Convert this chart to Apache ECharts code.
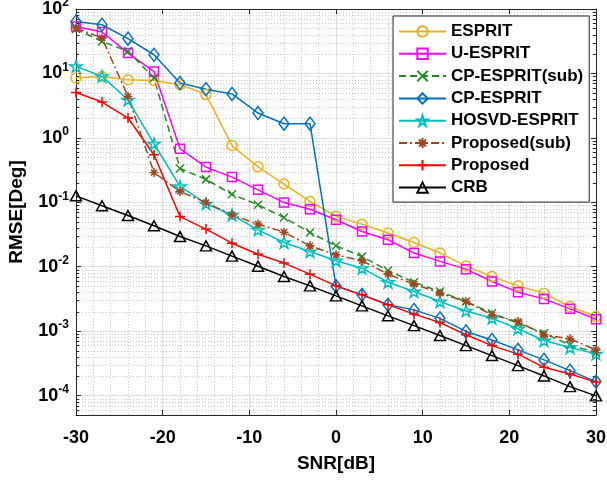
<!DOCTYPE html>
<html><head><meta charset="utf-8">
<script src="https://cdn.jsdelivr.net/npm/echarts@6/dist/echarts.min.js"></script>
<style>html,body{margin:0;padding:0;background:#fff}#c{width:607px;height:480px}</style>
</head><body><div id="c"></div>
<script>
// ---- data ----
const snr = [-30,-27,-24,-21,-18,-15,-12,-9,-6,-3,0,3,6,9,12,15,18,21,24,27,30];
const espritVals   = [8.5, 8.98, 7.98, 7.8, 6.7, 4.7, 0.76, 0.355, 0.192, 0.103, 0.061, 0.0458, 0.0333, 0.0238, 0.0163, 0.0103, 0.00705, 0.00505, 0.00389, 0.00241, 0.00169];
const uEspritVals  = [53.7, 44, 20.7, 10.7, 0.678, 0.352, 0.246, 0.156, 0.099, 0.078, 0.0535, 0.0352, 0.0262, 0.0163, 0.0121, 0.00918, 0.00589, 0.00403, 0.00317, 0.00222, 0.00153];
const cpSubVals    = [48.9, 31.4, 22, 8.5, 0.335, 0.227, 0.133, 0.0914, 0.058, 0.034, 0.0211, 0.0144, 0.00873, 0.00575, 0.00412, 0.00288, 0.0019, 0.00133, 0.00093, 0.00061, 0.000465];
const cpVals       = [64, 57, 34.6, 19.5, 7.1, 5.7, 4.8, 2.43, 1.66, 1.66, 0.0050, 0.00366, 0.00257, 0.00214, 0.00158, 0.00099, 0.00073, 0.000513, 0.000358, 0.000244, 0.000165];
const hosvdVals    = [12.9, 9.0, 3.9, 0.81, 0.176, 0.095, 0.064, 0.0374, 0.0238, 0.0172, 0.0124, 0.0095, 0.00575, 0.00412, 0.00288, 0.00206, 0.00159, 0.00109, 0.000715, 0.000556, 0.000444];
const propSubVals  = [50.7, 35.5, 4.4, 0.29, 0.147, 0.099, 0.064, 0.0459, 0.0344, 0.0211, 0.0153, 0.0124, 0.00767, 0.00537, 0.00389, 0.00288, 0.00179, 0.00141, 0.000877, 0.00076, 0.000513];
const propVals     = [5.07, 3.6, 2.03, 0.547, 0.060, 0.0384, 0.0232, 0.0156, 0.0114, 0.00767, 0.00505, 0.00366, 0.00257, 0.00184, 0.00136, 0.00088, 0.000597, 0.00044, 0.000275, 0.000217, 0.000162];
const crbVals      = [0.126, 0.0883, 0.0624, 0.0432, 0.0294, 0.0211, 0.0146, 0.0102, 0.00705, 0.00505, 0.00353, 0.00247, 0.00173, 0.00122, 0.000855, 0.000597, 0.000418, 0.000292, 0.000202, 0.000138, 0.000099];
const seriesNames = ['ESPRIT','U-ESPRIT','CP-ESPRIT(sub)','CP-ESPRIT','HOSVD-ESPRIT','Proposed(sub)','Proposed','CRB'];
const xLabel = 'SNR[dB]';
const yLabel = 'RMSE[Deg]';

// ---- style ----
const FONT = '"Liberation Sans", Arial, Helvetica, sans-serif';
const FRAME = '#262626';
const X_MIN = -30, X_MAX = 30, Y_MIN = 5e-5, Y_MAX = 100;

const SYM = {
  x: 'path://M0,0L10,10M10,0L0,10',
  plus: 'path://M5,0L5,10M0,5L10,5',
  aster: 'path://M5,0L5,10M0,5L10,5M1.6,1.6L8.4,8.4M8.4,1.6L1.6,8.4',
  star: 'path://M50,0L61.8,36.2L100,36.2L69.1,58.8L80.9,95.1L50,72.7L19.1,95.1L30.9,58.8L0,36.2L38.2,36.2Z'
};

function mk(name, vals, color, symbol, size, lineType) {
  return {
    name: name, type: 'line', data: snr.map((x, i) => [x, vals[i]]),
    symbol: symbol, symbolSize: size, symbolKeepAspect: true, showAllSymbol: true,
    lineStyle: { color: color, width: 1.5, type: lineType || 'solid' },
    itemStyle: { color: 'rgba(0,0,0,0)', borderColor: color, borderWidth: 1.5 },
    emphasis: { disabled: true }, animation: false, z: 3
  };
}

const minorVals = [];
for (let n = -5; n <= 1; n++) for (let k = 2; k <= 9; k++) {
  const v = k * Math.pow(10, n);
  if (v > Y_MIN * 1.0001 && v < Y_MAX) minorVals.push(v);
}

const chart = echarts.init(document.getElementById('c'), null, { renderer: 'canvas' });
const option = {
  animation: false,
  backgroundColor: '#fff',
  grid: { left: 76, right: 11, top: 9, bottom: 65, containLabel: false, outerBoundsMode: 'none' },
  legend: {
    data: seriesNames, orient: 'vertical', left: 393, top: 16,
    itemWidth: 47, itemHeight: 13, itemGap: 5.3,
    padding: [7, 6, 6, 5], backgroundColor: '#fff', borderColor: FRAME, borderWidth: 1, borderRadius: 0,
    textStyle: { fontFamily: FONT, fontWeight: 'bold', fontSize: 17, color: '#000', lineHeight: 17 },
    selectedMode: false
  },
  xAxis: [{
    type: 'value', min: X_MIN, max: X_MAX, interval: 10,
    name: xLabel, nameLocation: 'middle', nameGap: 39,
    nameTextStyle: { fontFamily: FONT, fontWeight: 'bold', fontSize: 19, color: '#000' },
    axisLine: { show: true, onZero: false, lineStyle: { color: FRAME, width: 1 } },
    axisTick: { show: true, inside: true, length: 5, lineStyle: { color: FRAME } },
    axisLabel: { fontFamily: FONT, fontWeight: 'bold', fontSize: 18, color: '#000', margin: 14 },
    splitLine: { show: true, lineStyle: { color: '#e0e0e0', width: 1 } },
    minorTick: { show: false, splitNumber: 5 },
    minorSplitLine: { show: true, lineStyle: { color: '#cfcfcf', width: 1, type: [1, 2] } }
  }, {
    type: 'value', min: X_MIN, max: X_MAX, interval: 10, position: 'top',
    axisLine: { show: true, onZero: false, lineStyle: { color: FRAME, width: 1 } },
    axisTick: { show: true, inside: true, length: 5, lineStyle: { color: FRAME } },
    axisLabel: { show: false }, splitLine: { show: false }
  }],
  yAxis: [{
    type: 'log', logBase: 10, min: Y_MIN, max: Y_MAX,
    name: yLabel, nameLocation: 'middle', nameGap: 50, nameRotate: 90,
    nameTextStyle: { fontFamily: FONT, fontWeight: 'bold', fontSize: 19, color: '#000' },
    axisLine: { show: true, onZero: false, lineStyle: { color: FRAME, width: 1 } },
    axisTick: { show: true, inside: true, length: 5, lineStyle: { color: FRAME } },
    axisLabel: {
      margin: 7,
      formatter: function (v) {
        const e = Math.log10(v), r = Math.round(e);
        if (Math.abs(e - r) > 1e-6) return '';
        return '{b|10}{s|' + r + '}';
      },
      rich: {
        b: { fontFamily: FONT, fontWeight: 'bold', fontSize: 18, color: '#000', lineHeight: 24 },
        s: { fontFamily: FONT, fontWeight: 'bold', fontSize: 12, color: '#000', lineHeight: 12, verticalAlign: 'top' }
      }
    },
    splitLine: { show: true, lineStyle: { color: '#e0e0e0', width: 1 } }
  }, {
    type: 'log', logBase: 10, min: Y_MIN, max: Y_MAX, position: 'right',
    axisLine: { show: true, onZero: false, lineStyle: { color: FRAME, width: 1 } },
    axisTick: { show: true, inside: true, length: 5, lineStyle: { color: FRAME } },
    axisLabel: { show: false }, splitLine: { show: false }
  }],
  series: [
    {
      type: 'custom', name: 'minorgrid', silent: true, z: 1, animation: false,
      data: minorVals.map(v => [X_MIN, v]), encode: { x: 0, y: 1 },
      renderItem: function (params, api) {
        const v = api.value(1);
        const a = api.coord([X_MIN, v]), b = api.coord([X_MAX, v]);
        const y = Math.round(a[1]) + 0.5;
        return { type: 'group', children: [
          { type: 'line', shape: { x1: a[0], y1: y, x2: b[0], y2: y }, style: { stroke: '#c8c8c8', lineWidth: 1, lineDash: [1, 2] } },
          { type: 'line', shape: { x1: a[0], y1: y, x2: a[0] + 3, y2: y }, style: { stroke: FRAME, lineWidth: 1 } },
          { type: 'line', shape: { x1: b[0] - 3, y1: y, x2: b[0], y2: y }, style: { stroke: FRAME, lineWidth: 1 } }
        ] };
      }
    },
    mk(seriesNames[0], espritVals, '#EDB120', 'circle', 10),
    mk(seriesNames[1], uEspritVals, '#FF00FF', 'rect', 9),
    mk(seriesNames[2], cpSubVals, '#228B22', SYM.x, 8, [7, 4]),
    mk(seriesNames[3], cpVals, '#0072BD', 'diamond', [10, 13]),
    mk(seriesNames[4], hosvdVals, '#00BFBF', SYM.star, 12),
    mk(seriesNames[5], propSubVals, '#A0461E', SYM.aster, 9, [8, 3, 2, 3]),
    mk(seriesNames[6], propVals, '#FF0000', SYM.plus, 10),
    mk(seriesNames[7], crbVals, '#000000', 'triangle', [11, 10])
  ]
};
chart.setOption(option);
</script></body></html>
